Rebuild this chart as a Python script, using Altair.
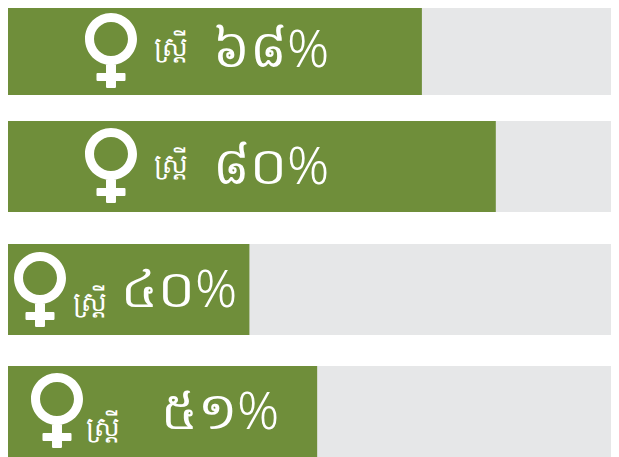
import altair as alt
import pandas as pd

rows = [1, 2, 3, 4]
percent = [68, 80, 40, 51]
full = [100, 100, 100, 100]
word = ["ស្ត្រី", "ស្ត្រី", "ស្ត្រី", "ស្ត្រី"]
numbers = ["៦៨%", "៨០%", "៤០%", "៥១%"]
df = pd.DataFrame({"row": rows, "percent": percent, "full": full, "word": word, "number": numbers})

FEMALE = ("M0,-1 A.693,.693 0 1 1 0,.386 A.693,.693 0 1 1 0,-1 Z "
          "M0,-.76 A.453,.453 0 1 0 0,.146 A.453,.453 0 1 0 0,-.76 Z "
          "M-.133,.36 L.133,.36 L.133,.97 Q.133,1 .1,1 L-.1,1 Q-.133,1 -.133,.97 Z "
          "M-.36,.6 L.36,.6 Q.387,.6 .387,.63 L.387,.78 Q.387,.813 .36,.813 L-.36,.813 Q-.387,.813 -.387,.78 L-.387,.63 Q-.387,.6 -.36,.6 Z")

xs = alt.Scale(domain=[0.81, 98.7], padding=0)
def ypos(r=(41.5, 158.5, 281.5, 403.5)):
    return alt.Y("row:Q", scale=alt.Scale(domain=rows, range=list(r), padding=0), axis=None)
def xpos(r):
    return alt.X("row:Q", scale=alt.Scale(domain=rows, range=r, padding=0), axis=None)

base = alt.Chart(df)
bg = base.mark_bar(color="#e6e7e8", size=91, clip=True, orient="horizontal").encode(
    x=alt.X("full:Q", scale=xs, axis=None, stack=None), y=ypos())
fg = base.mark_bar(color="#6f8e3a", size=91, clip=True, orient="horizontal").encode(
    x=alt.X("percent:Q", scale=xs, axis=None, stack=None), y=ypos())
icon = base.mark_point(shape=FEMALE, size=5625, filled=True, color="white", opacity=1).encode(
    x=xpos([103, 103, 32, 49]), y=ypos((42.5, 157.5, 281.5, 402.5)))
w = base.mark_text(color="white", fontSize=27, font="Noto Sans", align="left", baseline="middle").encode(
    x=xpos([146, 146, 65, 78]), y=ypos((40, 157, 295, 420)), text="word:N")
n = base.mark_text(color="white", fontSize=52, font="Noto Sans", fontWeight=300, align="left", baseline="middle").encode(
    x=xpos([205, 205, 113, 153]), y=ypos((43, 160, 283, 405)), text="number:N")

chart = (bg + fg + icon + w + n).resolve_scale(x="independent", y="independent").properties(
    width=603, height=449, padding=0, autosize=alt.AutoSizeParams(type="none")).configure_view(stroke=None)
chart.save("out.html", embed_options={"renderer": "svg", "actions": False})
